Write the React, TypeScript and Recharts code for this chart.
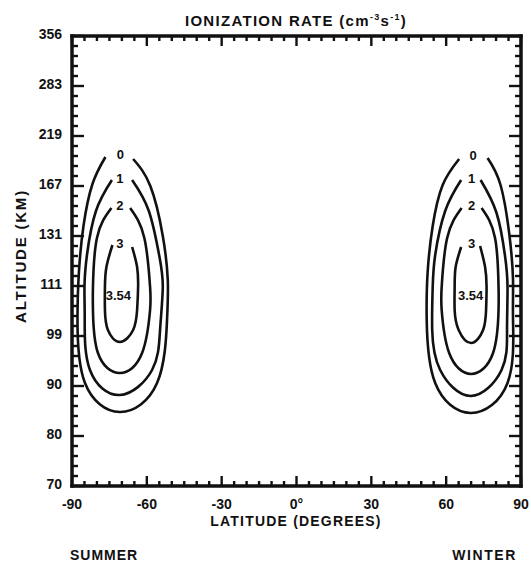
import * as React from 'react';
import { ComposedChart, Line, Scatter, XAxis, YAxis } from 'recharts';

// x = latitude (deg), y = altitude level index (0 = 70 km ... 9 = 356 km, evenly spaced on the plot)
const xMajor = [-90, -60, -30, 0, 30, 60, 90];
const xLabels = ['-90', '-60', '-30', '0°', '30', '60', '90'];
const yLabels = ['70', '80', '90', '99', '111', '131', '167', '219', '283', '356'];

// summer (southern) cell, each contour starts right of its label and runs round to the left of it
const summer0 = [
  { x: -65.5, y: 6.54 }, { x: -58.6, y: 6.0 }, { x: -53.6, y: 5.0 }, { x: -51.6, y: 4.12 },
  { x: -51.9, y: 3.32 }, { x: -55.9, y: 2.06 }, { x: -70.8, y: 1.48 }, { x: -84.8, y: 2.06 },
  { x: -87.8, y: 3.32 }, { x: -87.2, y: 4.3 }, { x: -85.4, y: 5.2 }, { x: -81.8, y: 6.04 },
  { x: -76.6, y: 6.58 },
];
const summer1 = [
  { x: -65.9, y: 6.12 }, { x: -59.2, y: 5.5 }, { x: -55.0, y: 4.6 }, { x: -53.6, y: 3.98 },
  { x: -54.7, y: 3.12 }, { x: -57.9, y: 2.32 }, { x: -70.8, y: 1.82 }, { x: -82.8, y: 2.32 },
  { x: -84.9, y: 3.32 }, { x: -85.0, y: 3.98 }, { x: -84.0, y: 4.62 }, { x: -80.4, y: 5.5 },
  { x: -74.0, y: 6.12 },
];
const summer2 = [
  { x: -66.7, y: 5.56 }, { x: -61.0, y: 4.96 }, { x: -58.7, y: 3.98 }, { x: -58.7, y: 3.52 },
  { x: -61.9, y: 2.66 }, { x: -70.8, y: 2.26 }, { x: -79.6, y: 2.66 }, { x: -81.6, y: 3.52 },
  { x: -81.6, y: 3.98 }, { x: -80.0, y: 4.96 }, { x: -74.2, y: 5.56 },
];
const summer3 = [
  { x: -65.9, y: 4.78 }, { x: -63.9, y: 4.38 }, { x: -63.5, y: 3.98 }, { x: -63.9, y: 3.52 },
  { x: -65.5, y: 3.12 }, { x: -70.8, y: 2.88 }, { x: -75.6, y: 3.12 }, { x: -76.8, y: 3.52 },
  { x: -76.8, y: 3.98 }, { x: -76.2, y: 4.38 }, { x: -73.8, y: 4.82 },
];

// winter (northern) cell
const winter0 = [
  { x: 76.6, y: 6.56 }, { x: 81.8, y: 6.02 }, { x: 85.4, y: 5.0 }, { x: 86.8, y: 4.12 },
  { x: 86.8, y: 3.32 }, { x: 84.6, y: 2.06 }, { x: 69.8, y: 1.46 }, { x: 55.6, y: 2.06 },
  { x: 52.2, y: 3.32 }, { x: 52.6, y: 4.3 }, { x: 54.6, y: 5.2 }, { x: 58.6, y: 6.02 },
  { x: 65.2, y: 6.54 },
];
const winter1 = [
  { x: 73.8, y: 6.12 }, { x: 80.2, y: 5.46 }, { x: 83.6, y: 4.6 }, { x: 84.6, y: 3.98 },
  { x: 84.4, y: 3.12 }, { x: 82.2, y: 2.32 }, { x: 69.8, y: 1.80 }, { x: 57.6, y: 2.32 },
  { x: 54.4, y: 3.12 }, { x: 54.6, y: 3.98 }, { x: 55.6, y: 4.62 }, { x: 59.6, y: 5.5 },
  { x: 66.0, y: 6.12 },
];
const winter2 = [
  { x: 74.2, y: 5.56 }, { x: 79.6, y: 4.96 }, { x: 81.0, y: 3.98 }, { x: 81.0, y: 3.52 },
  { x: 78.8, y: 2.66 }, { x: 70.0, y: 2.24 }, { x: 61.2, y: 2.66 }, { x: 58.2, y: 3.52 },
  { x: 58.2, y: 3.98 }, { x: 60.4, y: 4.96 }, { x: 66.2, y: 5.56 },
];
const winter3 = [
  { x: 73.6, y: 4.80 }, { x: 75.6, y: 4.38 }, { x: 76.2, y: 3.98 }, { x: 76.0, y: 3.52 },
  { x: 74.8, y: 3.12 }, { x: 70.0, y: 2.86 }, { x: 65.0, y: 3.12 }, { x: 63.4, y: 3.52 },
  { x: 63.4, y: 3.98 }, { x: 63.8, y: 4.38 }, { x: 66.0, y: 4.78 },
];

const contourLabels = [
  { x: -70.6, y: 6.64, t: '0' }, { x: -70.8, y: 6.16, t: '1' }, { x: -70.8, y: 5.62, t: '2' },
  { x: -70.8, y: 4.86, t: '3' }, { x: -71.4, y: 3.82, t: '3.54' },
  { x: 70.8, y: 6.62, t: '0' }, { x: 70.2, y: 6.16, t: '1' }, { x: 70.2, y: 5.62, t: '2' },
  { x: 70.2, y: 4.86, t: '3' }, { x: 69.8, y: 3.82, t: '3.54' },
];

const contours = [summer0, summer1, summer2, summer3, winter0, winter1, winter2, winter3];

const xTicks: number[] = [];
for (let v = -90; v <= 90; v += 5) xTicks.push(v);
const yTicks: number[] = [];
for (let i = 0; i <= 45; i++) yTicks.push(i / 5);

const FONT = '"Liberation Sans", Arial, sans-serif';
const INK = '#111';

const isYMajor = (v: number) => Math.abs(v - Math.round(v)) < 1e-6;

function XTick(props: any) {
  const { x, y, payload, side } = props;
  const v = payload.value;
  const major = v % 30 === 0;
  const len = major ? 10 : 5;
  const dir = side === 'bottom' ? -1 : 1;
  return (
    <g>
      <line x1={x} y1={y} x2={x} y2={y + dir * len} stroke={INK} strokeWidth={2.4} />
      {side === 'bottom' && major && (
        <text x={x} y={y + 18} textAnchor='middle' dominantBaseline='central'
          fontFamily={FONT} fontWeight='bold' fontSize={14} fill={INK}>
          {xLabels[xMajor.indexOf(v)]}
        </text>
      )}
    </g>
  );
}

function YTick(props: any) {
  const { x, y, payload, side } = props;
  const v = payload.value;
  const major = isYMajor(v);
  const len = major ? 12 : 6;
  const dir = side === 'left' ? 1 : -1;
  return (
    <g>
      <line x1={x} y1={y} x2={x + dir * len} y2={y} stroke={INK} strokeWidth={2.4} />
      {side === 'left' && major && (
        <text x={x - 10} y={y - 2} textAnchor='end' dominantBaseline='central'
          fontFamily={FONT} fontWeight='bold' fontSize={14} fill={INK}>
          {yLabels[Math.round(v)]}
        </text>
      )}
    </g>
  );
}

function LabelShape(props: any) {
  const { cx, cy, payload } = props;
  return (
    <text x={cx} y={cy} textAnchor='middle' dominantBaseline='central'
      fontFamily={FONT} fontWeight='bold' fontSize={13} fill={INK}>
      {payload.t}
    </text>
  );
}

const frame = { stroke: INK, strokeWidth: 3.5, strokeLinecap: 'square' as const };

const txt: React.CSSProperties = {
  position: 'absolute',
  fontFamily: FONT,
  fontWeight: 'bold',
  fontSize: 14,
  color: INK,
  whiteSpace: 'nowrap',
  letterSpacing: 1,
  lineHeight: '16px',
};

export default function App() {
  return (
    <div style={{ position: 'absolute', left: 0, top: 0, width: 531, height: 568, background: '#fff' }}>
      <ComposedChart width={531} height={568} margin={{ top: 16, right: 0, bottom: 52, left: 52 }}>
        <XAxis xAxisId='b' type='number' dataKey='x' domain={[-90, 90]} ticks={xTicks} interval={0}
          height={30} tickSize={0} tickMargin={0} tickLine={false} axisLine={frame} allowDataOverflow
          tick={<XTick side='bottom' />} />
        <XAxis xAxisId='t' orientation='top' type='number' dataKey='x' domain={[-90, 90]} ticks={xTicks}
          interval={0} height={20} tickSize={0} tickMargin={0} tickLine={false} axisLine={frame}
          allowDataOverflow tick={<XTick side='top' />} />
        <YAxis yAxisId='l' type='number' dataKey='y' domain={[0, 9]} ticks={yTicks} interval={0}
          width={20} tickSize={0} tickMargin={0} tickLine={false} axisLine={frame} allowDataOverflow
          tick={<YTick side='left' />} />
        <YAxis yAxisId='r' orientation='right' type='number' dataKey='y' domain={[0, 9]} ticks={yTicks}
          interval={0} width={10} tickSize={0} tickMargin={0} tickLine={false} axisLine={frame}
          allowDataOverflow tick={<YTick side='right' />} />
        {contours.map((c, i) => (
          <Line key={i} xAxisId='b' yAxisId='l' data={c} dataKey='y' type='natural' stroke={INK}
            strokeWidth={2.6} dot={false} activeDot={false} isAnimationActive={false} />
        ))}
        <Scatter xAxisId='b' yAxisId='l' data={contourLabels} dataKey='y' shape={<LabelShape />}
          isAnimationActive={false} />
      </ComposedChart>

      <div style={{ ...txt, left: 296, top: 9, fontSize: 15, letterSpacing: 1.3, transform: 'translateX(-50%)' }}>
        IONIZATION RATE (cm<sup style={{ fontSize: 9 }}>-3</sup>s<sup style={{ fontSize: 9 }}>-1</sup>)
      </div>
      <div style={{ ...txt, left: 21, top: 256, fontSize: 15, letterSpacing: 1.8, transform: 'translate(-50%, -50%) rotate(-90deg)' }}>
        ALTITUDE (KM)
      </div>
      <div style={{ ...txt, left: 296, top: 513, letterSpacing: 1.2, transform: 'translateX(-50%)' }}>
        LATITUDE (DEGREES)
      </div>
      <div style={{ ...txt, left: 70, top: 547 }}>SUMMER</div>
      <div style={{ ...txt, right: 14, top: 547, letterSpacing: 1.6 }}>WINTER</div>
    </div>
  );
}
